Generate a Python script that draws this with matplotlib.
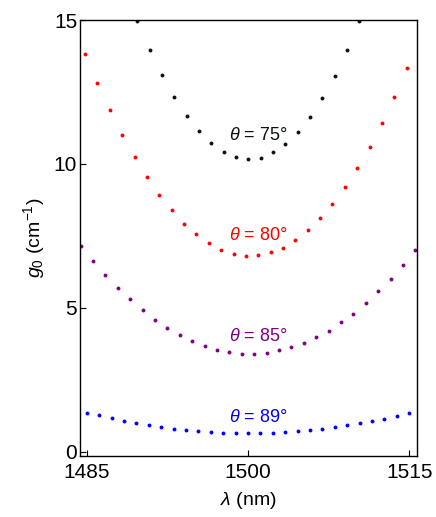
import matplotlib
matplotlib.use("Agg")
import matplotlib.pyplot as plt

plt.rcParams['font.family'] = ['Liberation Sans', 'DejaVu Sans']
plt.rcParams['mathtext.fontset'] = 'custom'
plt.rcParams['mathtext.rm'] = 'Liberation Sans'
plt.rcParams['mathtext.it'] = 'Liberation Sans:italic'

# ---- data ----
lam_75 = [1489.71, 1490.86, 1492.00, 1493.15, 1494.30, 1495.44, 1496.59, 1497.73,
          1498.88, 1500.03, 1501.17, 1502.32, 1503.47, 1504.61, 1505.76, 1506.90,
          1508.05, 1509.20, 1510.35]
g_75 = [14.98, 13.97, 13.09, 12.32, 11.66, 11.13, 10.71, 10.41, 10.23, 10.16,
        10.22, 10.40, 10.68, 11.10, 11.62, 12.29, 13.06, 13.96, 14.97]

lam_80 = [1484.85, 1486.00, 1487.15, 1488.30, 1489.45, 1490.60, 1491.75, 1492.90,
          1494.05, 1495.20, 1496.35, 1497.50, 1498.66, 1499.81, 1500.96, 1502.11,
          1503.26, 1504.41, 1505.56, 1506.71, 1507.86, 1509.01, 1510.17, 1511.32,
          1512.47, 1513.62, 1514.78]
g_80 = [13.82, 12.81, 11.88, 11.02, 10.24, 9.55, 8.93, 8.39, 7.92, 7.55, 7.24,
        7.02, 6.88, 6.81, 6.82, 6.93, 7.09, 7.35, 7.70, 8.11, 8.61, 9.20, 9.86,
        10.60, 11.43, 12.33, 13.33]

lam_85 = [1484.44, 1485.59, 1486.75, 1487.90, 1489.05, 1490.20, 1491.36, 1492.51,
          1493.66, 1494.82, 1495.97, 1497.12, 1498.27, 1499.43, 1500.58, 1501.73,
          1502.89, 1504.04, 1505.19, 1506.34, 1507.50, 1508.65, 1509.80, 1510.95,
          1512.11, 1513.26, 1514.41, 1515.56]
g_85 = [7.15, 6.62, 6.14, 5.68, 5.29, 4.92, 4.59, 4.30, 4.05, 3.85, 3.68, 3.54,
        3.46, 3.41, 3.40, 3.43, 3.52, 3.63, 3.78, 3.98, 4.21, 4.49, 4.80, 5.16,
        5.57, 6.01, 6.48, 7.02]

lam_89 = [1485.00, 1486.15, 1487.31, 1488.46, 1489.62, 1490.77, 1491.92, 1493.08,
          1494.23, 1495.38, 1496.54, 1497.69, 1498.85, 1500.00, 1501.15, 1502.31,
          1503.46, 1504.62, 1505.77, 1506.92, 1508.08, 1509.23, 1510.38, 1511.54,
          1512.69, 1513.85, 1515.00]
g_89 = [1.35, 1.26, 1.16, 1.08, 0.99, 0.94, 0.86, 0.80, 0.77, 0.72, 0.68, 0.66,
        0.65, 0.65, 0.65, 0.66, 0.70, 0.72, 0.75, 0.79, 0.85, 0.93, 0.99, 1.07,
        1.15, 1.25, 1.35]

labels = [r'$\theta$ = 75°', r'$\theta$ = 80°', r'$\theta$ = 85°', r'$\theta$ = 89°']
label_x = [1501.0, 1501.0, 1501.0, 1501.0]
label_y = [11.0, 7.52, 4.0, 1.19]
colors = ['#0a140a', '#ff0000', '#800080', '#0000ff']

x_ticks = [1485, 1500, 1515]
y_ticks = [0, 5, 10, 15]

# ---- figure ----
fig = plt.figure(figsize=(4.36, 5.17), dpi=100)
ax = fig.add_axes([0.1835, 0.118, 0.7722, 0.8433])

series = [(lam_75, g_75), (lam_80, g_80), (lam_85, g_85), (lam_89, g_89)]
for (xs, ys), c in zip(series, colors):
    ax.plot(xs, ys, linestyle='none', marker='o', markersize=2.8,
            markeredgewidth=0, color=c, clip_on=True)

for t, xx, yy, c in zip(labels, label_x, label_y, colors):
    ax.text(xx, yy, t, color=c, fontsize=13, ha='center', va='center')

ax.set_xlim(1484.38, 1515.69)
ax.set_ylim(-0.15, 15.0)
ax.set_xticks(x_ticks)
ax.set_yticks(y_ticks)
ax.tick_params(direction='in', length=4, width=0.8, labelsize=15,
               top=False, right=False)
ax.tick_params(axis='x', pad=5)
ax.tick_params(axis='y', pad=2)
for s in ax.spines.values():
    s.set_linewidth(1.0)

ax.set_xlabel(r'$\lambda$ (nm)', fontsize=14, labelpad=6)
ax.set_ylabel(r'$g_0$ (cm$^{-1}$)', fontsize=14, labelpad=5)

fig.savefig('out.png', dpi=100)
